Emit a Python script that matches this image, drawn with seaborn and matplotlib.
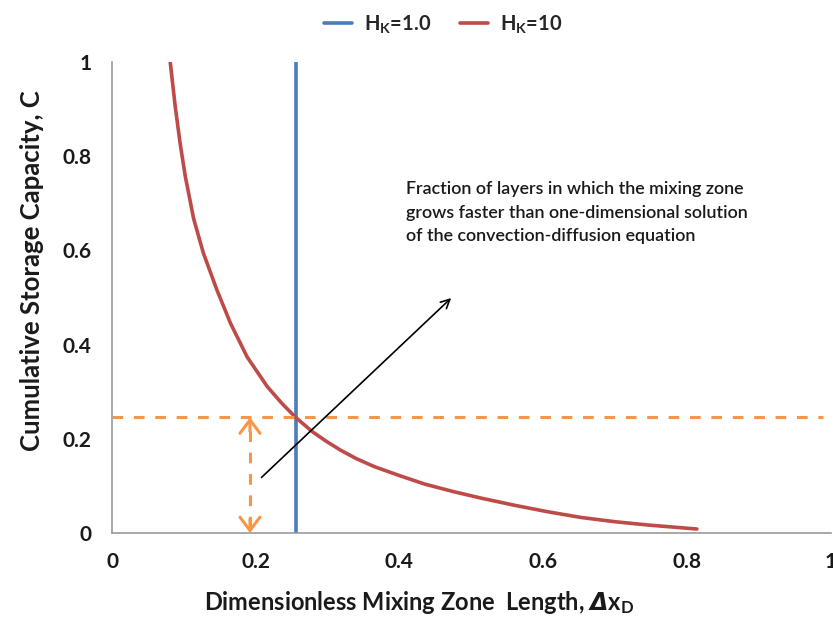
import numpy as np
import pandas as pd
import matplotlib
matplotlib.use("Agg")
import matplotlib.pyplot as plt
import seaborn as sns

# Cumulative storage capacity vs. dimensionless mixing zone length
hk10_x = [0.081, 0.088, 0.095, 0.102, 0.1135, 0.127, 0.146, 0.165, 0.188, 0.216,
          0.236, 0.2555, 0.279, 0.298, 0.318, 0.340, 0.365, 0.400, 0.435, 0.475,
          0.514, 0.560, 0.607, 0.653, 0.700, 0.746, 0.814]
hk10_c = [1.000, 0.905, 0.825, 0.757, 0.668, 0.595, 0.516, 0.445, 0.374, 0.311,
          0.276, 0.2456, 0.215, 0.195, 0.176, 0.158, 0.141, 0.122, 0.104, 0.088,
          0.074, 0.059, 0.045, 0.033, 0.024, 0.017, 0.0085]
hk1_x = [0.2555, 0.2555]
hk1_c = [0.0, 1.0]
c_cut = 0.2456
x_cut = 0.192
series_labels = [r"$\mathbf{H_K}$=1.0", r"$\mathbf{H_K}$=10"]
note = ("Fraction of layers in which the mixing zone\n"
        "grows faster than one-dimensional solution\n"
        "of the convection-diffusion equation")
ticks = [0, 0.2, 0.4, 0.6, 0.8, 1]
tick_labels = ["0", "0.2", "0.4", "0.6", "0.8", "1"]

sns.set_theme(style="white")
plt.rcParams["font.family"] = ["Lato", "DejaVu Sans"]
plt.rcParams["mathtext.fontset"] = "custom"
plt.rcParams["mathtext.rm"] = "Lato"
plt.rcParams["mathtext.bf"] = "Lato:bold"
plt.rcParams["mathtext.it"] = "Lato:italic"
plt.rcParams["mathtext.bfit"] = "DejaVu Sans:italic:bold"

df = pd.DataFrame({
    "x": hk1_x + hk10_x,
    "c": hk1_c + hk10_c,
    "series": [series_labels[0]] * len(hk1_x) + [series_labels[1]] * len(hk10_x),
})

fig = plt.figure(figsize=(8.33, 6.18), dpi=100)
ax = fig.add_axes([0.1345, 0.1375, 0.8625, 0.762])

sns.lineplot(data=df, x="x", y="c", hue="series", sort=False, estimator=None,
             palette=["#4A7EBB", "#BE4B48"], linewidth=2.6, ax=ax)

orange = "#F79646"
# horizontal cut-off level
ax.plot([0, 0.99], [c_cut, c_cut], color=orange, lw=2.2, ls=(0, (3.5, 3.5)))
# dashed double arrow spanning the cut-off fraction
ax.plot([x_cut, x_cut], [0.012, c_cut - 0.012], color=orange, lw=2.2,
        ls=(0, (3.5, 3.5)))
for tip, tail in [(c_cut, c_cut - 0.03), (0.0, 0.03)]:
    ax.annotate("", xy=(x_cut, tip), xytext=(x_cut, tail),
                arrowprops=dict(arrowstyle="->,head_length=0.6,head_width=0.45",
                                color=orange, lw=2.2, mutation_scale=16,
                                shrinkA=0, shrinkB=0))
ax.annotate("", xy=(0.472, 0.499), xytext=(0.208, 0.118),
            arrowprops=dict(arrowstyle="->", color="black", lw=1.2,
                            mutation_scale=16, shrinkA=0, shrinkB=0))
ax.text(0.409, 0.747, note, fontsize=12.9, color="#1a1a1a", ha="left", va="top",
        linespacing=1.58, fontweight="semibold")

ax.set_xlim(0, 1)
ax.set_ylim(0, 1)
ax.set_xticks(ticks)
ax.set_xticklabels(tick_labels)
ax.set_yticks(ticks)
ax.set_yticklabels(tick_labels)
ax.tick_params(axis="both", length=0, labelsize=15, colors="#1a1a1a")
ax.tick_params(axis="x", pad=14)
ax.tick_params(axis="y", pad=15)
for lab in ax.get_xticklabels() + ax.get_yticklabels():
    lab.set_fontweight("bold")

for s in ["top", "right"]:
    ax.spines[s].set_visible(False)
for s in ["left", "bottom"]:
    ax.spines[s].set_color("#9a9a9a")
    ax.spines[s].set_linewidth(1.2)

ax.set_ylabel("Cumulative Storage Capacity, C", fontsize=18.5, fontweight="bold",
              color="#1a1a1a", labelpad=13)
ax.yaxis.label.set_y(0.558)
ax.set_xlabel(r"Dimensionless Mixing Zone  Length, $\mathbfit{\Delta}\mathbf{x_D}$",
              fontsize=17, fontweight="bold", color="#1a1a1a", labelpad=12)
ax.xaxis.label.set_x(0.428)

leg = ax.legend(title=None, loc="center", bbox_to_anchor=(0.461, 1.08),
                ncol=2, frameon=False, handlelength=1.4, handletextpad=0.6,
                columnspacing=1.4, prop={"size": 14.5, "weight": "bold"})

fig.savefig("out.png", dpi=100)
